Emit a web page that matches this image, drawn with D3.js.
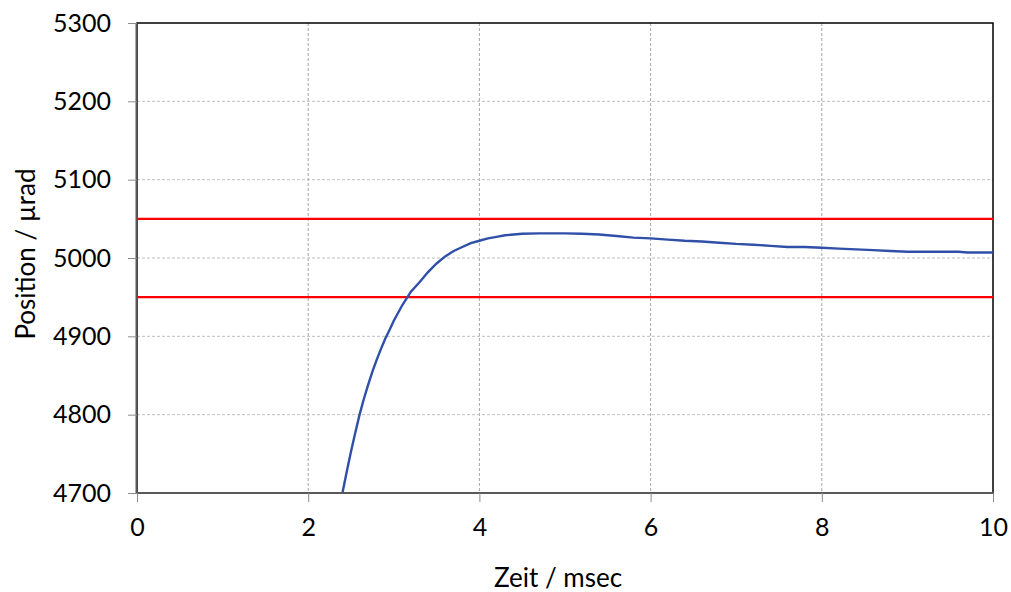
<!DOCTYPE html>
<html><head><meta charset="utf-8">
<script src="https://cdn.jsdelivr.net/npm/d3@7"></script>
<style>
html,body{margin:0;padding:0;background:#fff;}
text{font-family:Lato,"Open Sans",sans-serif;fill:#000;}
</style></head>
<body><svg id="c" width="1011" height="592"></svg>
<script>
const timeMs = [2.40,2.45,2.50,2.55,2.60,2.65,2.70,2.75,2.80,2.85,2.90,2.95,3.00,3.10,3.20,3.30,3.40,3.50,3.60,3.70,3.80,3.90,4.00,4.10,4.20,4.30,4.40,4.50,4.70,5.00,5.20,5.40,5.60,5.80,6.00,6.20,6.40,6.60,6.80,7.00,7.20,7.40,7.60,7.80,8.00,8.20,8.40,8.60,8.80,9.00,9.20,9.40,9.60,9.70,10.00];
const positionUrad = [4700,4727,4753,4777,4800,4820,4838,4855,4870,4884,4897,4908,4920,4940,4957,4969,4982,4993,5002,5009,5014,5019,5022,5025,5027,5029,5030,5031,5031.5,5031.5,5031,5030,5028,5026,5025,5023.5,5022,5021,5019.5,5018,5017,5015.5,5014,5014,5013,5012,5011,5010,5009,5008,5008,5008,5008,5007,5007];
const limitLines = [5050, 4950];
const xTicks = [0,2,4,6,8,10];
const yTicks = [4700,4800,4900,5000,5100,5200,5300];
const xTitle = "Zeit / msec";
const yTitle = "Position / µrad";

const svg = d3.select("#c");
const L=137, R=993, T=23, B=493;
const x = d3.scaleLinear().domain([0,10]).range([L,R]);
const y = d3.scaleLinear().domain([4700,5300]).range([B,T]);

// grid
svg.append("g").selectAll("line").data(xTicks.slice(1,-1)).join("line")
  .attr("x1",d=>x(d)).attr("x2",d=>x(d)).attr("y1",T).attr("y2",B)
  .attr("stroke","#a6a6a6").attr("stroke-width",1).attr("stroke-dasharray","3,2");
svg.append("g").selectAll("line").data(yTicks.slice(1,-1)).join("line")
  .attr("y1",d=>y(d)).attr("y2",d=>y(d)).attr("x1",L).attr("x2",R)
  .attr("stroke","#bfbfbf").attr("stroke-width",1).attr("stroke-dasharray","3,2");

// frame
svg.append("rect").attr("x",L).attr("y",T).attr("width",R-L).attr("height",B-T)
  .attr("fill","none").attr("stroke","#000").attr("stroke-width",1.5);

// limit lines
svg.append("g").selectAll("line").data(limitLines).join("line")
  .attr("x1",L).attr("x2",R).attr("y1",d=>y(d)).attr("y2",d=>y(d))
  .attr("stroke","#ff0000").attr("stroke-width",2.2);

// curve
const line = d3.line().x((d,i)=>x(timeMs[i])).y(d=>y(d));
svg.append("path").datum(positionUrad).attr("d",line)
  .attr("fill","none").attr("stroke","#2f4fa8").attr("stroke-width",2.4);

// axes
const xa = svg.append("g").attr("transform",`translate(0,${B})`)
  .call(d3.axisBottom(x).tickValues(xTicks).tickSize(9).tickPadding(16).tickFormat(d3.format("d")));
const ya = svg.append("g").attr("transform",`translate(${L},0)`)
  .call(d3.axisLeft(y).tickValues(yTicks).tickSize(9).tickPadding(17).tickFormat(d3.format("d")));
[xa,ya].forEach(a=>{
  a.select(".domain").attr("stroke","#595959").attr("stroke-width",2);
  a.selectAll(".tick line").attr("stroke","#8c8c8c");
  a.selectAll("text").style("font-family","Lato, 'Open Sans', sans-serif").style("font-size","25px").attr("fill","#000");
});
ya.select(".domain").attr("d",`M-0.5,${T}V${B}`);
xa.select(".domain").attr("d",`M${L},0H${R}`);

svg.append("text").attr("x",558).attr("y",587).attr("text-anchor","middle")
  .style("font-size","26px").text(xTitle);
svg.append("text").attr("transform",`translate(35,254) rotate(-90)`).attr("text-anchor","middle")
  .style("font-size","26px").text(yTitle);
</script></body></html>
